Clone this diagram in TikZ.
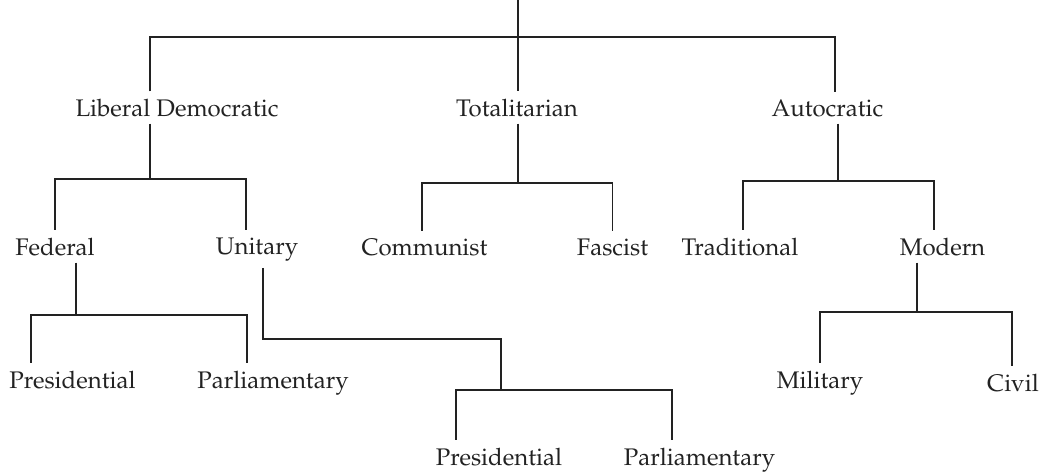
\documentclass[tikz,border=0pt]{standalone}
\usepackage[T1]{fontenc}
\usepackage{mathpazo}
\usepackage{tikz}
\usetikzlibrary{
  calc,
}
\definecolor{inkgray}{RGB}{34, 34, 34}
\tikzstyle{branch} = [
  line width=1.8pt,
  inkgray,
  line cap=butt,
]

\begin{document}
\begin{tikzpicture}[x=1pt, y=-1pt]
      \tikzstyle{form}=[anchor=base, inner sep=7pt, text=inkgray, font=\fontsize{24}{28}\selectfont]
      \useasboundingbox (0,0) rectangle (1039,472);
      \node [form] (lib) at (177,116) {Liberal Democratic};
      \node [form] (tot) at (517,116) {Totalitarian};
      \node [form] (auto) at (827.5,116) {Autocratic};
      \node [form] (fed) at (55,255) {Federal};
      \node [form] (uni) at (257,254) {Unitary};
      \node [form] (com) at (424.5,255) {Communist};
      \node [form] (fas) at (612.5,255) {Fascist};
      \node [form] (tra) at (740,255) {Traditional};
      \node [form] (mod) at (942.5,255) {Modern};
      \node [form] (pre1) at (72.5,388) {Presidential};
      \node [form] (par1) at (273,388) {Parliamentary};
      \node [form] (pre2) at (499,465) {Presidential};
      \node [form] (par2) at (699.5,465) {Parliamentary};
      \node [form] (mil) at (820,388) {Military};
      \node [form] (civ) at (1013,391) {Civil};
      \coordinate (top) at (518,0);
      \coordinate (j0) at (518,37);
      \coordinate (j1) at (150,179);
      \coordinate (j2) at (518,183);
      \coordinate (j3) at (838,181);
      \coordinate (j4) at (76,315);
      \coordinate (j5) at (501,339);
      \coordinate (j6) at (501,390);
      \coordinate (j7) at (917,312);
      \draw [branch] (top) -- (tot.north -| top);
      \draw [branch] (lib.north -| 150,0) |- (j0) -| (auto.north -| 835,0);
      \draw [branch] (lib.south -| j1) -- (j1) -| (fed.north);
      \draw [branch] (j1) -| (uni.north -| 246,0);
      \draw [branch] (tot.south -| j2) -- (j2) -| (com.north -| 422,0);
      \draw [branch] (j2) -| (fas.north);
      \draw [branch] (auto.south -| j3) -- (j3) -| (tra.north -| 743,0);
      \draw [branch] (j3) -| (mod.north -| 934,0);
      \draw [branch] (fed.south -| j4) -- (j4) -| (pre1.north -| 31,0);
      \draw [branch] (j4) -| (par1.north -| 247,0);
      \draw [branch] (uni.south -| 263,0) |- (j5) -- (j6) -| (pre2.north -| 456,0);
      \draw [branch] (j6) -| (par2.north -| 672,0);
      \draw [branch] (mod.south -| j7) -- (j7) -| (mil.north);
      \draw [branch] (j7) -| (civ.north -| 1012,0);
    \end{tikzpicture}
\end{document}
